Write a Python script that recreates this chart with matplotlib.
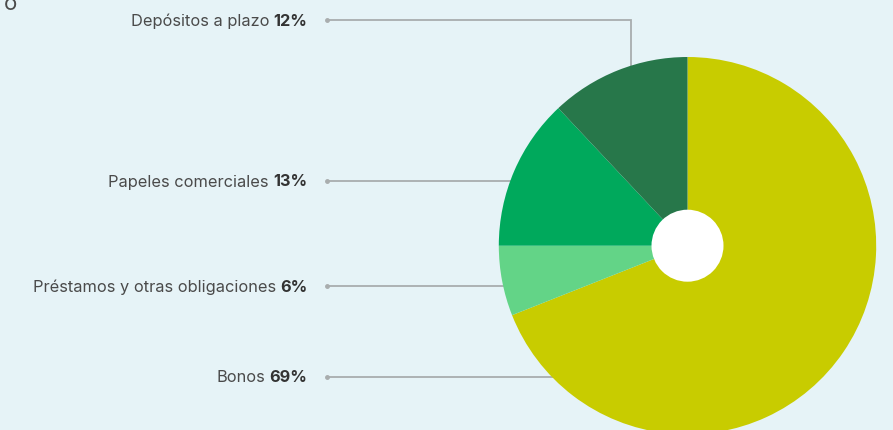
import numpy as np
import matplotlib
matplotlib.use("Agg")
import matplotlib.pyplot as plt
from matplotlib.patches import Circle

plt.rcParams['font.family'] = ['Inter', 'DejaVu Sans']

categories = ["Bonos", "Préstamos y otras obligaciones", "Papeles comerciales", "Depósitos a plazo"]
shares = [69, 6, 13, 12]
colors = ["#c8cc00", "#63d487", "#00a95c", "#27774a"]

W, H = 893, 431
BG = "#e6f3f7"
TEXT = "#4a4a4a"
LINE = "#a9adae"

fig = plt.figure(figsize=(W / 100, H / 100), dpi=100, facecolor=BG)
ax = fig.add_axes([0, 0, 1, 1])
ax.set_facecolor(BG)

cx, cy_px, r = 687.5, 246.7, 188.7
cy = H - cy_px

ax.pie(shares, colors=colors, startangle=90, counterclock=False,
       center=(cx, cy), radius=r, frame=True,
       wedgeprops=dict(linewidth=0, zorder=3))
ax.set_xlim(0, W)
ax.set_ylim(0, H)
ax.set_aspect('equal')
ax.axis('off')
ax.add_patch(Circle((cx, cy), 36, facecolor="white", edgecolor="none", zorder=4))

# title fragment at the top-left
ax.text(4, H - 10, "o", fontsize=16, color=TEXT, ha='left', va='baseline')

label_y = {"Depósitos a plazo": 21, "Papeles comerciales": 182,
           "Préstamos y otras obligaciones": 287, "Bonos": 378}
text_right = 307
dot_x = 327

fig.canvas.draw()
renderer = fig.canvas.get_renderer()

def edge_x(y_px):
    dy = y_px - cy_px
    return cx - np.sqrt(r * r - dy * dy)

for name, pct in zip(categories, shares):
    y_px = label_y[name]
    y = H - y_px
    t_pct = ax.text(text_right, y, f"{pct}%", fontsize=11.8, fontweight='bold',
                    color="#333333", ha='right', va='center')
    bb = t_pct.get_window_extent(renderer)
    ax.text(bb.x0 - 4, y, name, fontsize=11.8, color=TEXT, ha='right', va='center')
    ax.plot([dot_x], [y], 'o', color=LINE, markersize=2.5, zorder=2)
    if name == "Depósitos a plazo":
        vx = 631
        vy_end = cy_px - np.sqrt(r * r - (vx - cx) ** 2)
        ax.plot([dot_x, vx, vx], [y, y, H - vy_end - 2], color=LINE, lw=1.3, zorder=2,
                solid_joinstyle='miter')
    else:
        ax.plot([dot_x, edge_x(y_px) + 2], [y, y], color=LINE, lw=1.3, zorder=2)

fig.savefig("out.png", dpi=100, facecolor=BG)
